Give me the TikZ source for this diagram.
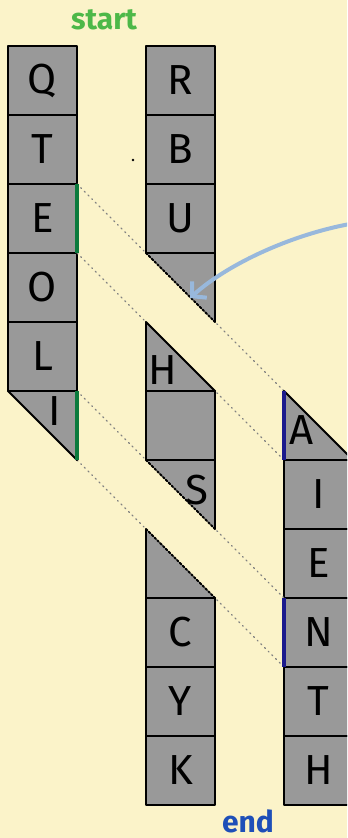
\documentclass[tikz,border=0pt]{standalone}
\usepackage{fontspec}
\setmainfont{Fira Sans}
\usetikzlibrary{arrows.meta}
\definecolor{paper}{HTML}{FBF3C9}
\definecolor{cellgray}{HTML}{999999}
\definecolor{startgreen}{HTML}{4DB848}
\definecolor{endblue}{HTML}{1E4FB8}
\definecolor{greenedge}{HTML}{0B7A3C}
\definecolor{blueedge}{HTML}{1B1A8C}
\definecolor{arrowblue}{HTML}{98B8DC}
\begin{document}
\begin{tikzpicture}[x=0.5pt, y=-0.5pt, line cap=round, line join=round,
    cell/.style={draw, line width=1pt, fill=cellgray, minimum size=34.5pt, inner sep=0pt, outer sep=0pt, font=\fontsize{21}{21}\selectfont},
    slot/.style={minimum size=34.5pt, inner sep=0pt, outer sep=0pt},
    letter/.style={inner sep=0pt, font=\fontsize{21}{21}\selectfont},
    guide/.style={gray, dotted, line width=0.6pt},
    cut/.style={black, densely dotted, line width=1pt},
    edge/.style={line width=1pt},
    sideline/.style={line width=2pt, line cap=butt}]
    \fill[paper] (0,0) rectangle (347,838);
    \useasboundingbox (0,0) rectangle (347,838);
    \clip (0,0) rectangle (347,838);
    \node[font=\fontsize{15}{15}\selectfont\bfseries, text=startgreen] (start) at (104,20) {start};
    \node[font=\fontsize{15}{15}\selectfont\bfseries, text=endblue] (finish) at (248,821) {end};
    \fill (133,160) circle (1.3);
    \foreach \l [count=\i from 0] in {Q,T,E,O,L} \node[cell] (l\i) at (42.5,{80.5+69*\i}) {\l};
    \foreach \l/\i in {R/0,B/1,U/2,C/8,Y/9,K/10} \node[cell] (m\i) at (180.5,{80.5+69*\i}) {\l};
    \node[cell] (m5) at (180.5,425.5) {};
    \foreach \l [count=\i from 6] in {I,E,N,T,H} \node[cell] (r\i) at (318.5,{80.5+69*\i}) {\l};
    \node[slot] (l5) at (42.5,425.5) {};
    \foreach \i in {3,4,6,7} \node[slot] (m\i) at (180.5,{80.5+69*\i}) {};
    \node[slot] (r5) at (318.5,425.5) {};
    \draw[guide] (l2.north east) -- (r5.north west);
    \draw[guide] (l2.south east) -- (r5.south west);
    \draw[guide] (l5.north east) -- (r8.north west);
    \draw[guide] (l5.south east) -- (r8.south west);
    % cut cells
    \foreach \c in {l5,m3,m6} {
      \fill[cellgray] (\c.north west) -- (\c.north east) -- (\c.south east) -- cycle;
      \draw[edge] (\c.north west) -- (\c.north east) -- (\c.south east);
    }
    \foreach \c in {m4,m7,r5} {
      \fill[cellgray] (\c.north west) -- (\c.south west) -- (\c.south east) -- cycle;
      \draw[edge] (\c.north west) -- (\c.south west) -- (\c.south east);
    }
    \draw[edge] (l5.north west) -- (l5.south east);
    \draw[edge] (m4.north west) -- (m4.south east);
    \draw[edge] (r5.north west) -- (r5.south east);
    \foreach \c in {m3,m6,m7} \draw[cut] (\c.north west) -- (\c.south east);
    \node[letter] (li) at (55,411) {I};
    \node[letter] (mh) at (163,370) {H};
    \node[letter] (ms) at (197,490) {S};
    \node[letter] (ra) at (302,430) {A};
    \draw[sideline, greenedge] (l2.north east) -- (l2.south east);
    \draw[sideline, greenedge] (l5.north east) -- (l5.south east);
    \draw[sideline, blueedge] (r5.north west) -- (r5.south west);
    \draw[sideline, blueedge] (r8.north west) -- (r8.south west);
    \coordinate (tail) at (350,224);
    \coordinate (tip) at (190,298);
    \draw[arrowblue, line width=2pt, -{Straight Barb[length=5pt, width=11pt]}] (tail) .. controls (295,234) and (230,262) .. (tip);
\end{tikzpicture}
\end{document}
